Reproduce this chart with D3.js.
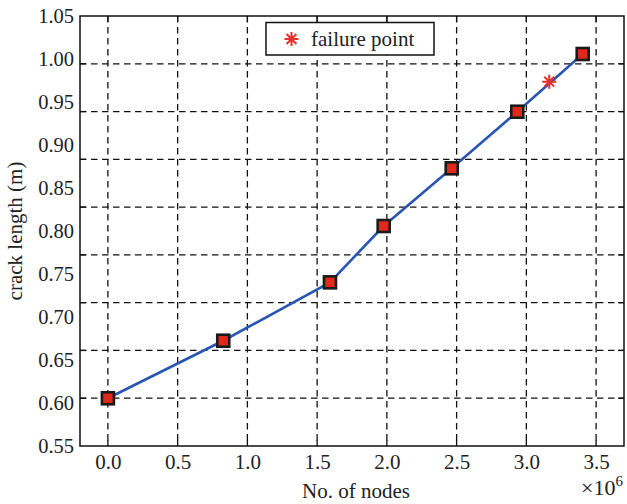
<!DOCTYPE html>
<html>
<head>
<meta charset="utf-8">
<script src="https://cdn.jsdelivr.net/npm/d3@7"></script>
<style>
  html, body { margin: 0; padding: 0; background: #fff; }
  svg text { font-family: 'Liberation Serif', 'Times New Roman', Tinos, 'DejaVu Serif', serif; }
</style>
</head>
<body>
<svg id="chart" width="627" height="504"></svg>
<script>
// Number of nodes (in millions) and measured crack length (m)
const nodes = [0, 0.827, 1.592, 1.977, 2.465, 2.935, 3.404];
const crackLength = [0.6055, 0.6724, 0.7403, 0.8058, 0.8729, 0.9387, 1.0058];
// Failure point
const failureNodes = [3.164];
const failureLength = [0.9736];

const xTicks = [0, 0.5, 1.0, 1.5, 2.0, 2.5, 3.0, 3.5];
const yTicks = [0.55, 0.60, 0.65, 0.70, 0.75, 0.80, 0.85, 0.90, 0.95, 1.00, 1.05];
const legendLabel = "failure point";

const svg = d3.select("#chart");
const pLeft = 80, pRight = 624, pTop = 16, pBottom = 446;

const x = d3.scaleLinear().domain([-0.2, 3.7]).range([pLeft, pRight]);
const y = d3.scaleLinear().domain([0.55, 1.05]).range([pBottom, pTop]);
// horizontal grid divides the box into nine bands
const yGrid = d3.scaleLinear().domain([0, 9]).range([pBottom, pTop]);
const gridRows = d3.range(1, 9);

const dash = "6.5,4.5";

// horizontal grid lines
svg.append("g").selectAll("line").data(gridRows).join("line")
  .attr("x1", pLeft).attr("x2", pRight)
  .attr("y1", d => yGrid(d)).attr("y2", d => yGrid(d))
  .attr("stroke", "#111").attr("stroke-width", 1.3).attr("stroke-dasharray", dash);

// vertical grid lines
svg.append("g").selectAll("line").data(xTicks).join("line")
  .attr("x1", d => x(d)).attr("x2", d => x(d))
  .attr("y1", pTop).attr("y2", pBottom)
  .attr("stroke", "#111").attr("stroke-width", 1.3).attr("stroke-dasharray", dash);

// inward tick marks on all four sides
const tk = 6;
const ticksG = svg.append("g").attr("stroke", "#111").attr("stroke-width", 1.3);
xTicks.forEach(d => {
  ticksG.append("line").attr("x1", x(d)).attr("x2", x(d)).attr("y1", pBottom).attr("y2", pBottom - tk);
  ticksG.append("line").attr("x1", x(d)).attr("x2", x(d)).attr("y1", pTop).attr("y2", pTop + tk);
});
gridRows.forEach(d => {
  ticksG.append("line").attr("x1", pLeft).attr("x2", pLeft + tk).attr("y1", yGrid(d)).attr("y2", yGrid(d));
  ticksG.append("line").attr("x1", pRight).attr("x2", pRight - tk).attr("y1", yGrid(d)).attr("y2", yGrid(d));
});

// plot frame
svg.append("rect")
  .attr("x", pLeft).attr("y", pTop)
  .attr("width", pRight - pLeft).attr("height", pBottom - pTop)
  .attr("fill", "none").attr("stroke", "#111").attr("stroke-width", 1.5);

// axes (labels only)
const yAxis = svg.append("g")
  .attr("transform", `translate(${pLeft},0)`)
  .call(d3.axisLeft(y).tickValues(yTicks).tickSize(0).tickPadding(6).tickFormat(d3.format(".2f")));
yAxis.select(".domain").remove();
yAxis.attr("font-family", null).attr("font-size", null);
yAxis.selectAll("text").attr("font-size", 20.5).attr("fill", "#222");

const xAxis = svg.append("g")
  .attr("transform", `translate(0,${pBottom})`)
  .call(d3.axisBottom(x).tickValues(xTicks).tickSize(0).tickPadding(8).tickFormat(d3.format(".1f")));
xAxis.select(".domain").remove();
xAxis.attr("font-family", null).attr("font-size", null);
xAxis.selectAll("text").attr("font-size", 21).attr("fill", "#222");

// axis titles
svg.append("text")
  .attr("x", 356).attr("y", 498)
  .attr("text-anchor", "middle").attr("font-size", 21).attr("fill", "#222")
  .text("No. of nodes");

const mult = svg.append("text")
  .attr("x", 623).attr("y", 495)
  .attr("text-anchor", "end").attr("font-size", 22).attr("fill", "#222");
mult.append("tspan").text("\u00d710");
mult.append("tspan").attr("dy", -9).attr("font-size", 15).text("6");

svg.append("text")
  .attr("transform", `translate(22,${(pTop + pBottom) / 2}) rotate(-90)`)
  .attr("text-anchor", "middle").attr("font-size", 21).attr("fill", "#222")
  .text("crack length (m)");

// data line
const pts = nodes.map((n, i) => [n, crackLength[i]]);
svg.append("path")
  .datum(pts)
  .attr("fill", "none").attr("stroke", "#2a55b3").attr("stroke-width", 2.6)
  .attr("d", d3.line().x(d => x(d[0])).y(d => y(d[1])));

// square markers
const sq = 12;
svg.append("g").selectAll("rect").data(pts).join("rect")
  .attr("x", d => x(d[0]) - sq / 2).attr("y", d => y(d[1]) - sq / 2)
  .attr("width", sq).attr("height", sq)
  .attr("fill", "#e0281c").attr("stroke", "#1a1a1a").attr("stroke-width", 2.6);

// eight-armed asterisk marker
function asterisk(r) {
  const d = r * Math.SQRT1_2;
  return `M${-r},0L${r},0M0,${-r}L0,${r}M${-d},${-d}L${d},${d}M${-d},${d}L${d},${-d}`;
}
const fail = failureNodes.map((n, i) => [n, failureLength[i]]);
svg.append("g").selectAll("path").data(fail).join("path")
  .attr("transform", d => `translate(${x(d[0])},${y(d[1])})`)
  .attr("d", asterisk(7))
  .attr("fill", "none").attr("stroke", "#e8302a").attr("stroke-width", 2);

// legend
const lg = svg.append("g");
lg.append("rect")
  .attr("x", 266).attr("y", 22.5).attr("width", 168).attr("height", 32.5)
  .attr("fill", "#fff").attr("stroke", "#111").attr("stroke-width", 1.5);
lg.append("path")
  .attr("transform", "translate(291.5,39)")
  .attr("d", asterisk(7))
  .attr("fill", "none").attr("stroke", "#e8302a").attr("stroke-width", 2);
lg.append("text")
  .attr("x", 311).attr("y", 46)
  .attr("font-size", 21).attr("fill", "#222")
  .text(legendLabel);
</script>
</body>
</html>
